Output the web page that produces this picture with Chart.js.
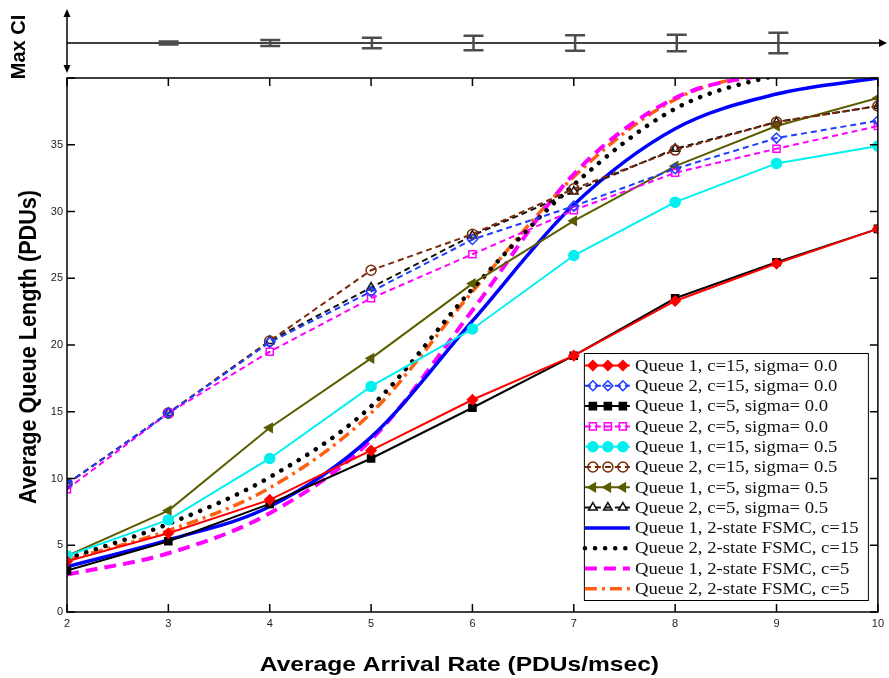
<!DOCTYPE html>
<html>
<head>
<meta charset="utf-8">
<script src="https://cdn.jsdelivr.net/npm/chart.js@4.4.1/dist/chart.umd.min.js"></script>
<style>
  html, body { margin: 0; padding: 0; background: #fff; }
  #wrap { position: relative; width: 889px; height: 678px; }
  #main, #ci { position: absolute; left: 0; top: 0; }
</style>
</head>
<body>
<div id="wrap">
  <canvas id="main" width="889" height="678"></canvas>
  <canvas id="ci" width="889" height="90"></canvas>
</div>
<script>
// arrival rates (PDUs/msec)
const rates = [2, 3, 4, 5, 6, 7, 8, 9, 10];

// average queue length per series (PDUs)
const q1c15s00 = [3.8, 5.9, 8.4, 12.1, 15.9, 19.2, 23.3, 26.1, 28.7];
const q2c15s00 = [9.6, 14.9, 20.2, 24.0, 27.9, 30.4, 33.2, 35.5, 36.8];
const q1c5s00  = [3.1, 5.3, 8.1, 11.5, 15.3, 19.2, 23.5, 26.2, 28.7];
const q2c5s00  = [9.2, 14.9, 19.5, 23.5, 26.8, 30.1, 32.9, 34.7, 36.4];
const q1c15s05 = [4.2, 6.9, 11.5, 16.9, 21.2, 26.7, 30.7, 33.6, 34.9];
const q2c15s05 = [9.6, 14.9, 20.3, 25.6, 28.3, 31.7, 34.6, 36.7, 37.9];
const q1c5s05  = [4.2, 7.6, 13.8, 19.0, 24.6, 29.3, 33.4, 36.4, 38.5];
const q2c5s05  = [9.6, 14.9, 20.3, 24.3, 28.2, 31.5, 34.7, 36.7, 37.9];
const fsmcQ1c15 = [3.4, 5.4, 7.9, 13.1, 21.8, 30.5, 36.2, 38.8, 40.0];
const fsmcQ2c15 = [4.0, 6.6, 10.1, 15.4, 24.2, 32.0, 37.7, 40.2, 41.5];
const fsmcQ1c5  = [2.8, 4.4, 7.4, 12.9, 22.6, 32.8, 38.5, 40.4, 41.8];
const fsmcQ2c5  = [3.9, 6.1, 9.3, 14.9, 24.0, 32.6, 38.4, 40.6, 42.0];

// max confidence interval (half width) at each rate, top strip
const ciRates = [3, 4, 5, 6, 7, 8, 9];
const ciHalf = [0.15, 0.3, 0.53, 0.72, 0.77, 0.83, 1.03];

const seriesNames = [
  'Queue 1, c=15, sigma= 0.0',
  'Queue 2, c=15, sigma= 0.0',
  'Queue 1, c=5, sigma= 0.0',
  'Queue 2, c=5, sigma= 0.0',
  'Queue 1, c=15, sigma= 0.5',
  'Queue 2, c=15, sigma= 0.5',
  'Queue 1, c=5, sigma= 0.5',
  'Queue 2, c=5, sigma= 0.5',
  'Queue 1, 2-state FSMC, c=15',
  'Queue 2, 2-state FSMC, c=15',
  'Queue 1, 2-state FSMC, c=5',
  'Queue 2, 2-state FSMC, c=5'
];

const pts = arr => arr.map((v, i) => ({ x: rates[i], y: v }));
const NONE = 'rgba(0,0,0,0)';
const DASH = [6, 4];

function marked(label, data, color, style, filled, dash, rot) {
  return {
    label, data: pts(data),
    borderColor: color, borderWidth: 2, borderDash: dash || [],
    pointStyle: style, pointRadius: 5, pointRotation: rot || 0,
    pointBackgroundColor: filled ? color : NONE,
    pointBorderColor: color, pointBorderWidth: 1.5,
    tension: 0
  };
}
function smooth(label, data, color, dash, width, cap) {
  return {
    label, data: pts(data),
    borderColor: color, borderWidth: width, borderDash: dash || [],
    borderCapStyle: cap || 'butt',
    pointRadius: 0, cubicInterpolationMode: 'monotone'
  };
}

const datasets = [
  marked(seriesNames[0], q1c15s00, '#ff0000', 'rectRot', true),
  marked(seriesNames[1], q2c15s00, '#1f3dff', 'rectRot', false, DASH),
  marked(seriesNames[2], q1c5s00, '#000000', 'rect', true),
  marked(seriesNames[3], q2c5s00, '#ff00ff', 'rect', false, DASH),
  marked(seriesNames[4], q1c15s05, '#00f0f0', 'circle', true),
  marked(seriesNames[5], q2c15s05, '#7a2a08', 'circle', false, DASH),
  marked(seriesNames[6], q1c5s05, '#5c5c00', 'triangle', true, null, -90),
  marked(seriesNames[7], q2c5s05, '#111111', 'triangle', false, DASH),
  smooth(seriesNames[8], fsmcQ1c15, '#0000ff', [], 3.5),
  smooth(seriesNames[9], fsmcQ2c15, '#000000', [0.1, 10], 4.5, 'round'),
  smooth(seriesNames[10], fsmcQ1c5, '#ff00ff', [12, 7], 4),
  smooth(seriesNames[11], fsmcQ2c5, '#ff6010', [12, 5, 3, 5], 3.5)
];

const tickFont = { family: '"Liberation Sans", Arial, sans-serif', size: 11 };
// the source figure is a little stretched sideways
const STRETCH = 1.17;

// box around plot with inward ticks (matlab look)
const frame = {
  id: 'frame',
  afterDraw(chart) {
    const { ctx, chartArea: a, scales: { x, y } } = chart;
    const len = 8;
    ctx.save();
    ctx.strokeStyle = '#000';
    ctx.lineWidth = 1.5;
    ctx.strokeRect(a.left, a.top, a.right - a.left, a.bottom - a.top);
    ctx.beginPath();
    x.ticks.forEach(t => {
      const px = x.getPixelForValue(t.value);
      ctx.moveTo(px, a.bottom); ctx.lineTo(px, a.bottom - len);
      ctx.moveTo(px, a.top); ctx.lineTo(px, a.top + len);
    });
    y.ticks.forEach(t => {
      const py = y.getPixelForValue(t.value);
      ctx.moveTo(a.left, py); ctx.lineTo(a.left + len, py);
      ctx.moveTo(a.right, py); ctx.lineTo(a.right - len, py);
    });
    ctx.stroke();

    // axis titles
    ctx.fillStyle = '#000';
    ctx.font = 'bold 21px "Liberation Sans", Arial, sans-serif';
    ctx.textAlign = 'center';
    ctx.textBaseline = 'middle';
    ctx.save();
    ctx.translate((a.left + a.right) / 2 - 13, a.bottom + 53);
    ctx.scale(STRETCH, 1);
    ctx.fillText('Average Arrival Rate (PDUs/msec)', 0, 0);
    ctx.restore();
    ctx.translate(a.left - 37, (a.top + a.bottom) / 2 + 2);
    ctx.rotate(-Math.PI / 2);
    ctx.scale(1.03, 1.1);
    ctx.fillText('Average Queue Length (PDUs)', 0, 0);
    ctx.restore();
  }
};

// legend box in the lower right of the plot
const boxLegend = {
  id: 'boxLegend',
  afterDraw(chart) {
    const { ctx, chartArea: a } = chart;
    const rowH = 20.3;
    const w = 284, h = 247;
    const left = a.right - 10 - w, top = a.bottom - 12 - h;
    ctx.save();
    ctx.fillStyle = '#fff';
    ctx.fillRect(left, top, w, h);
    ctx.strokeStyle = '#000';
    ctx.lineWidth = 1;
    ctx.strokeRect(left + 0.5, top + 0.5, w, h);
    chart.data.datasets.forEach((ds, i) => {
      const yy = top + 12.5 + i * rowH;
      const x0 = left + 1, x1 = left + 46;
      ctx.beginPath();
      ctx.setLineDash(ds.borderDash || []);
      ctx.lineCap = ds.borderCapStyle || 'butt';
      ctx.lineWidth = ds.borderWidth;
      ctx.strokeStyle = ds.borderColor;
      ctx.moveTo(x0, yy); ctx.lineTo(x1, yy);
      ctx.stroke();
      ctx.setLineDash([]);
      if (ds.pointRadius > 0) {
        [x0 + 8, x0 + 23, x0 + 38].forEach(mx => {
          ctx.fillStyle = ds.pointBackgroundColor;
          ctx.strokeStyle = ds.pointBorderColor;
          ctx.lineWidth = ds.pointBorderWidth;
          Chart.helpers.drawPoint(ctx, {
            pointStyle: ds.pointStyle, radius: ds.pointRadius,
            rotation: ds.pointRotation, borderWidth: ds.pointBorderWidth
          }, mx, yy);
        });
      }
      ctx.save();
      ctx.fillStyle = '#111';
      ctx.font = '16px "Liberation Serif", "Times New Roman", serif';
      ctx.textAlign = 'left';
      ctx.textBaseline = 'middle';
      ctx.translate(left + 51, yy + 1);
      ctx.scale(STRETCH, 1);
      ctx.fillText(ds.label, 0, 0);
      ctx.restore();
    });
    ctx.restore();
  }
};

new Chart(document.getElementById('main'), {
  type: 'line',
  data: { datasets },
  plugins: [frame, boxLegend],
  options: {
    responsive: false,
    animation: false,
    layout: { padding: { top: 78, right: 9, left: 0, bottom: 0 } },
    plugins: { legend: { display: false }, tooltip: { enabled: false } },
    scales: {
      x: {
        type: 'linear', min: 2, max: 10,
        ticks: { stepSize: 1, font: tickFont, color: '#222', padding: 5 },
        grid: { display: false, drawTicks: false },
        border: { display: false },
        afterFit(s) { s.height = 66; }
      },
      y: {
        min: 0, max: 40,
        ticks: { stepSize: 5, font: tickFont, color: '#222', padding: 4,
          callback: v => (v === 40 ? '' : v) },
        grid: { display: false, drawTicks: false },
        border: { display: false },
        afterFit(s) { s.width = 67; }
      }
    }
  }
});

// top strip: max CI error bars along a shared rate axis
const ciBars = {
  id: 'ciBars',
  afterDraw(chart) {
    const { ctx, chartArea: a, scales: { x, y } } = chart;
    const y0 = y.getPixelForValue(0);
    ctx.save();
    ctx.strokeStyle = '#000';
    ctx.fillStyle = '#000';
    ctx.lineWidth = 1.5;
    // horizontal axis with arrow
    ctx.beginPath();
    ctx.moveTo(a.left, y0); ctx.lineTo(a.right + 2, y0);
    ctx.stroke();
    ctx.beginPath();
    ctx.moveTo(a.right + 7, y0); ctx.lineTo(a.right - 1, y0 - 4); ctx.lineTo(a.right - 1, y0 + 4);
    ctx.closePath(); ctx.fill();
    // vertical double arrow
    const vt = a.top - 3, vb = a.bottom - 1;
    ctx.beginPath();
    ctx.moveTo(a.left, vt + 6); ctx.lineTo(a.left, vb - 6);
    ctx.stroke();
    ctx.beginPath();
    ctx.moveTo(a.left, vt); ctx.lineTo(a.left - 3.5, vt + 8); ctx.lineTo(a.left + 3.5, vt + 8);
    ctx.closePath(); ctx.fill();
    ctx.beginPath();
    ctx.moveTo(a.left, vb); ctx.lineTo(a.left - 3.5, vb - 8); ctx.lineTo(a.left + 3.5, vb - 8);
    ctx.closePath(); ctx.fill();

    // error bars
    ctx.strokeStyle = '#4d4d4d';
    ctx.lineWidth = 2.5;
    ctx.beginPath();
    ciRates.forEach((r, i) => {
      const px = x.getPixelForValue(r);
      const top = y.getPixelForValue(ciHalf[i]);
      const bot = y.getPixelForValue(-ciHalf[i]);
      ctx.moveTo(px, top); ctx.lineTo(px, bot);
      ctx.moveTo(px - 10, top); ctx.lineTo(px + 10, top);
      ctx.moveTo(px - 10, bot); ctx.lineTo(px + 10, bot);
    });
    ctx.stroke();

    // label
    ctx.fillStyle = '#000';
    ctx.font = 'bold 20px "Liberation Sans", Arial, sans-serif';
    ctx.textAlign = 'center';
    ctx.textBaseline = 'middle';
    ctx.translate(19, 47);
    ctx.rotate(-Math.PI / 2);
    ctx.fillText('Max CI', 0, 0);
    ctx.restore();
  }
};

new Chart(document.getElementById('ci'), {
  type: 'scatter',
  data: { datasets: [{ data: ciRates.map((r, i) => ({ x: r, y: 0 })), pointRadius: 0 }] },
  plugins: [ciBars],
  options: {
    responsive: false,
    animation: false,
    layout: { padding: { left: 67, right: 9, top: 12, bottom: 16 } },
    plugins: { legend: { display: false }, tooltip: { enabled: false } },
    scales: {
      x: { type: 'linear', min: 2, max: 10, display: false },
      y: { min: -3.1, max: 3.1, display: false }
    }
  }
});
</script>
</body>
</html>
